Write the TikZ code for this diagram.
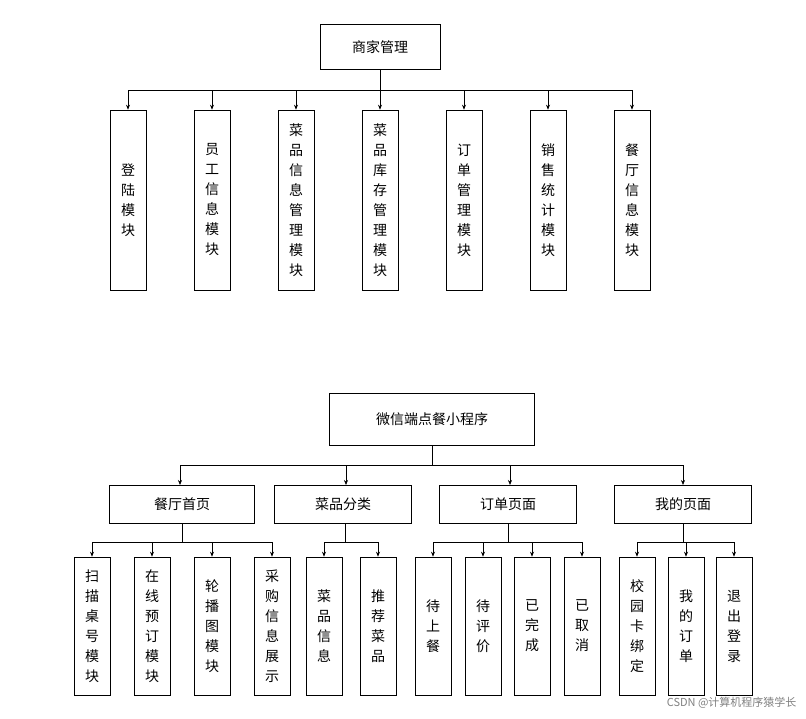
\documentclass[tikz,border=0pt]{standalone}
\usepackage{fontspec}
\setmainfont{Noto Sans CJK SC}
\usetikzlibrary{arrows.meta,calc}
\begin{document}
\begin{tikzpicture}[x=1pt,y=-1pt,
  box/.style={draw,line width=0.6pt,font=\fontsize{14}{20}\selectfont,align=center,inner sep=0pt},
  tall/.style={box,minimum width=36pt,minimum height=180pt},
  low/.style={box,minimum width=36pt,minimum height=138pt},
  arr/.style={-{Stealth[length=5pt,width=4pt]},line width=0.6pt}]
\useasboundingbox (0,0) rectangle (806,718);
\node[box,minimum width=120pt,minimum height=45pt] (r1) at (380,47) {商家管理};
\coordinate (b1) at (380,90);
\draw[line width=0.6pt] (r1.south) -- (b1);
\foreach \n/\x/\t in {a/128/登\\陆\\模\\块, b/212/员\\工\\信\\息\\模\\块, c/296/菜\\品\\信\\息\\管\\理\\模\\块, d/380/菜\\品\\库\\存\\管\\理\\模\\块, e/464/订\\单\\管\\理\\模\\块, f/548/销\\售\\统\\计\\模\\块, g/632/餐\\厅\\信\\息\\模\\块}{
  \node[tall] (t\n) at (\x,200) {\t};
  \draw[arr] (\x,90) -- (t\n.north);
}
\draw[line width=0.6pt] (128,90) -- (632,90);

\node[box,minimum width=205pt,minimum height=52pt] (r2) at (432,419) {微信端点餐小程序};
\draw[line width=0.6pt] (r2.south) -- (432,465);
\draw[line width=0.6pt] (180,465) -- (683,465);
\foreach \n/\x/\w/\t in {p/182/145/餐厅首页, q/343/137/菜品分类, s/508/137/订单页面, u/683/137/我的页面}{
  \node[box,minimum width=\w pt,minimum height=38pt] (\n) at (\x,504) {\t};
}
\draw[arr] (180,465) -- (180,485);
\draw[arr] (346,465) -- (346,485);
\draw[arr] (510,465) -- (510,485);
\draw[arr] (683,465) -- (683,485);
% level 3
\foreach \p/\a/\b/\s in {p/92/272/182, q/324/378/345, s/433/582/508, u/637/734/683}{
  \draw[line width=0.6pt] (\s,523) -- (\s,542);
  \draw[line width=0.6pt] (\a,542) -- (\b,542);
}
\foreach \n/\x/\t in {p1/92/扫\\描\\桌\\号\\模\\块, p2/152/在\\线\\预\\订\\模\\块, p3/212/轮\\播\\图\\模\\块, p4/272/采\\购\\信\\息\\展\\示, q1/324/菜\\品\\信\\息, q2/378/推\\荐\\菜\\品, s1/433/待\\上\\餐, s2/483/待\\评\\价, s3/532/已\\完\\成, s4/582/已\\取\\消, u1/637/校\\园\\卡\\绑\\定, u2/686/我\\的\\订\\单, u3/734/退\\出\\登\\录}{
  \node[low] (\n) at (\x,626) {\t};
  \draw[arr] (\x,542) -- (\n.north);
}
\node[font=\fontsize{11}{12}\selectfont,text=gray,anchor=east] (wm) at (800,703) {CSDN @计算机程序猿学长};
\end{tikzpicture}
\end{document}
